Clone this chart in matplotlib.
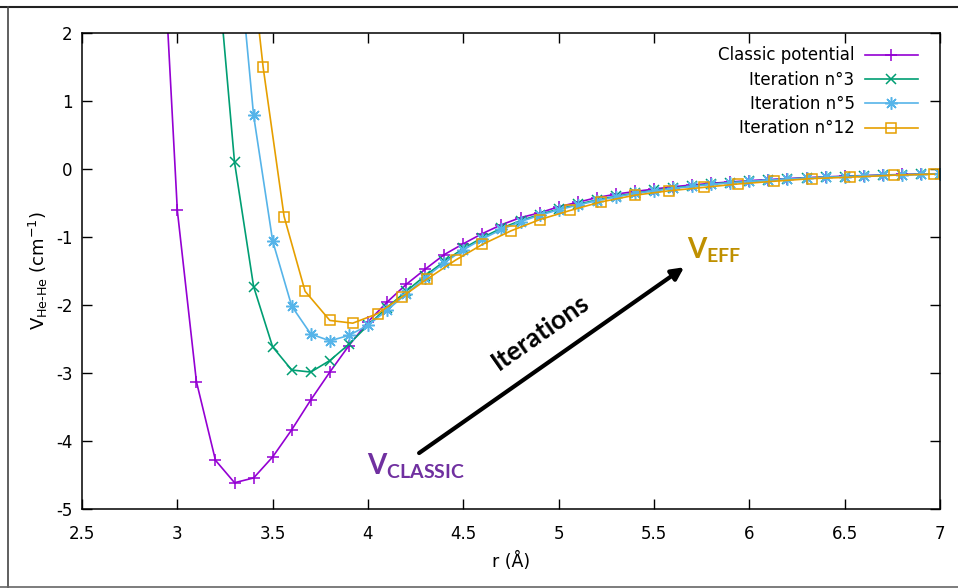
import numpy as np
import matplotlib
matplotlib.use('Agg')
import matplotlib.pyplot as plt
from matplotlib.lines import Line2D

plt.rcParams['font.family'] = ['DejaVu Sans']
plt.rcParams['axes.unicode_minus'] = False
plt.rcParams['mathtext.fontset'] = 'custom'
plt.rcParams['mathtext.rm'] = 'DejaVu Sans'
plt.rcParams['mathtext.it'] = 'DejaVu Sans:italic'
plt.rcParams['mathtext.bf'] = 'Lato:bold'

# potentiel classique
r_classic = [2.9, 3.0, 3.1, 3.2, 3.3, 3.4, 3.5, 3.6, 3.7, 3.8, 3.9, 4.0, 4.1, 4.2,
             4.3, 4.4, 4.5, 4.6, 4.7, 4.8, 4.9, 5.0, 5.1, 5.2, 5.3, 5.4, 5.5, 5.6,
             5.7, 5.8, 5.9, 6.0, 6.1, 6.2, 6.3, 6.4, 6.5, 6.6, 6.7, 6.8, 6.9, 7.0]
v_classic = [4.7, -0.61, -3.13, -4.29, -4.62, -4.55, -4.24, -3.84, -3.40, -2.99,
             -2.60, -2.25, -1.96, -1.70, -1.475, -1.26, -1.10, -0.95, -0.82, -0.715,
             -0.645, -0.555, -0.49, -0.42, -0.37, -0.33, -0.295, -0.26, -0.235, -0.21,
             -0.19, -0.17, -0.155, -0.14, -0.127, -0.115, -0.105, -0.096, -0.088,
             -0.08, -0.074, -0.068]

# iteration 3
r_it3 = [3.2, 3.3, 3.4, 3.5, 3.6, 3.7, 3.8, 3.9, 4.0, 4.1, 4.2, 4.3, 4.4, 4.5,
         4.6, 4.7, 4.8, 4.9, 5.0, 5.1, 5.2, 5.3, 5.4, 5.5, 5.6, 5.7, 5.8, 5.9,
         6.0, 6.1, 6.2, 6.3, 6.4, 6.5, 6.6, 6.7, 6.8, 6.9, 7.0]
v_it3 = [3.3, 0.10, -1.73, -2.62, -2.96, -2.99, -2.82, -2.58, -2.30, -2.04, -1.80,
         -1.57, -1.36, -1.17, -1.01, -0.87, -0.76, -0.67, -0.59, -0.52, -0.455,
         -0.40, -0.355, -0.315, -0.28, -0.25, -0.22, -0.20, -0.18, -0.163, -0.147,
         -0.133, -0.12, -0.11, -0.10, -0.092, -0.084, -0.077, -0.07]

# iteration 5
r_it5 = [3.3, 3.4, 3.5, 3.6, 3.7, 3.8, 3.9, 4.0, 4.1, 4.2, 4.3, 4.4, 4.5, 4.6,
         4.7, 4.8, 4.9, 5.0, 5.1, 5.2, 5.3, 5.4, 5.5, 5.6, 5.7, 5.8, 5.9, 6.0,
         6.1, 6.2, 6.3, 6.4, 6.5, 6.6, 6.7, 6.8, 6.9, 7.0]
v_it5 = [3.8, 0.79, -1.06, -2.02, -2.43, -2.53, -2.45, -2.30, -2.08, -1.84, -1.60,
         -1.38, -1.19, -1.03, -0.89, -0.775, -0.68, -0.60, -0.53, -0.465, -0.41,
         -0.36, -0.32, -0.285, -0.255, -0.225, -0.203, -0.182, -0.165, -0.149,
         -0.135, -0.122, -0.111, -0.101, -0.093, -0.085, -0.078, -0.071]

# iteration 12
r_it12 = [3.34, 3.45, 3.56, 3.67, 3.80, 3.92, 4.05, 4.18, 4.31, 4.46, 4.60, 4.75,
          4.90, 5.06, 5.22, 5.40, 5.58, 5.76, 5.94, 6.13, 6.33, 6.53, 6.76, 6.97]
v_it12 = [4.3, 1.50, -0.70, -1.80, -2.23, -2.27, -2.13, -1.88, -1.62, -1.34, -1.11,
          -0.91, -0.745, -0.61, -0.485, -0.385, -0.32, -0.27, -0.22, -0.18, -0.14,
          -0.12, -0.09, -0.075]

fig = plt.figure(figsize=(9.58, 5.88), dpi=100)
ax = fig.add_axes([0.0856, 0.1352, 0.8956, 0.8082])

ax.plot(r_classic, v_classic, color='#9400d3', lw=1.2, marker='+', ms=9, mew=1.1,
        label='Classic potential')
ax.plot(r_it3, v_it3, color='#009e73', lw=1.2, marker='x', ms=7, mew=1.1,
        label='Iteration n°3')
ax.plot(r_it5, v_it5, color='#56b4e9', lw=1.2, marker=(8, 2, 0), ms=9, mew=1.1,
        label='Iteration n°5')
ax.plot(r_it12, v_it12, color='#e69f00', lw=1.2, marker='s', ms=7, mew=1.1,
        mfc='none', label='Iteration n°12')

ax.set_xlim(2.5, 7)
ax.set_ylim(-5, 2)
ax.set_xticks(np.arange(2.5, 7.01, 0.5))
ax.set_xticklabels(['2.5', '3', '3.5', '4', '4.5', '5', '5.5', '6', '6.5', '7'])
ax.set_yticks(range(-5, 3))
ax.tick_params(direction='in', length=7, width=1, top=True, right=True, labelsize=12)
ax.tick_params(axis='x', pad=12)
ax.tick_params(axis='y', pad=7)
for s in ax.spines.values():
    s.set_linewidth(1.1)

ax.set_xlabel('r (Å)', fontsize=12.5, labelpad=6)
ax.set_ylabel(r'V$_{\mathrm{He\text{-}He}}$ (cm$^{-1}$)', fontsize=13, labelpad=4)

ax.legend(loc='upper right', bbox_to_anchor=(0.9582, 0.921), bbox_transform=fig.transFigure,
          frameon=False, markerfirst=False, handlelength=3.2, handletextpad=0.6,
          labelspacing=0.38, borderpad=0, borderaxespad=0, fontsize=12)

# fleche + textes
ax.annotate('', xy=(5.658, -1.446), xytext=(4.268, -4.183),
            arrowprops=dict(arrowstyle='-|>', color='black', lw=3, mutation_scale=18,
                            shrinkA=0, shrinkB=0))
ax.text(4.906, -2.40, 'Iterations', rotation=35, ha='center', va='center',
        fontsize=19, fontweight='bold', family='Lato')
ax.text(3.993, -4.506, r'$\mathbf{V_{CLASSIC}}$', color='#7030a0', fontsize=20,
        ha='left', va='baseline')
ax.text(5.675, -1.324, r'$\mathbf{V_{EFF}}$', color='#bf9000', fontsize=20,
        ha='left', va='baseline')

# cadre de la capture
fig.add_artist(Line2D([0, 1], [1 - 7/588, 1 - 7/588], transform=fig.transFigure, color='#222222', lw=1.5))
fig.add_artist(Line2D([8/958, 8/958], [0, 1 - 7/588], transform=fig.transFigure, color='#444444', lw=1.2))
fig.add_artist(Line2D([0, 1], [1/588, 1/588], transform=fig.transFigure, color='#666666', lw=1.2))

plt.savefig('out.png', dpi=100)
